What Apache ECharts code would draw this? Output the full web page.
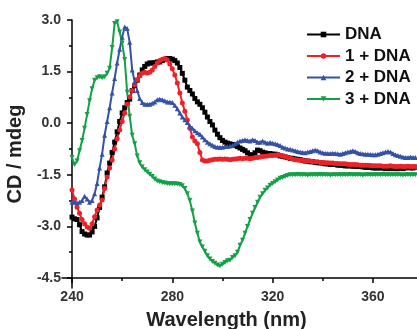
<!DOCTYPE html>
<html>
<head>
<meta charset="utf-8">
<script src="https://cdn.jsdelivr.net/npm/echarts@6/dist/echarts.min.js"></script>
<style>
  html, body { margin: 0; padding: 0; background: #fff; }
  #chart { width: 417px; height: 329px; }
</style>
</head>
<body>
<div id="chart"></div>
<script>
// wavelength starts at 240 nm, 1 nm per point
const startNm = 240;

const dna = [
  -2.73, -2.78, -2.80, -2.95, -3.15, -3.22, -3.25, -3.25, -3.16, -3.00,
  -2.75, -2.45, -2.15, -1.85, -1.45, -1.16, -0.85, -0.55, -0.25, 0.05,
  0.30, 0.45, 0.60, 0.70, 0.95, 1.10, 1.25, 1.40, 1.55, 1.65,
  1.72, 1.75, 1.75, 1.76, 1.78, 1.78, 1.82, 1.85, 1.88, 1.88,
  1.86, 1.82, 1.75, 1.62, 1.45, 1.25, 1.05, 0.95, 0.85, 0.72,
  0.62, 0.55, 0.45, 0.32, 0.18, 0.05, -0.05, -0.20, -0.32, -0.42,
  -0.50, -0.55, -0.58, -0.60, -0.62, -0.65, -0.68, -0.72, -0.76, -0.80,
  -0.86, -0.92, -0.92, -0.86, -0.78, -0.80, -0.84, -0.86, -0.88, -0.88,
  -0.90, -0.90, -0.92, -0.95, -0.96, -0.98, -1.00, -1.02, -1.02, -1.04,
  -1.05, -1.06, -1.08, -1.10, -1.10, -1.12, -1.12, -1.14, -1.15, -1.15,
  -1.16, -1.18, -1.18, -1.20, -1.20, -1.20, -1.22, -1.22, -1.22, -1.24,
  -1.24, -1.24, -1.25, -1.25, -1.26, -1.26, -1.27, -1.28, -1.28, -1.28,
  -1.30, -1.30, -1.30, -1.30, -1.30, -1.32, -1.30, -1.32, -1.30, -1.32,
  -1.32, -1.30, -1.32, -1.30, -1.28, -1.30, -1.30, -1.28
];

const dna1 = [
  -1.94, -2.20, -2.44, -2.62, -2.80, -2.92, -3.02, -3.05, -2.92, -2.72,
  -2.52, -2.38, -2.23, -1.90, -1.56, -1.30, -1.07, -0.75, -0.45, -0.20,
  0.05, 0.30, 0.55, 0.76, 0.95, 1.12, 1.26, 1.38, 1.45, 1.48,
  1.46, 1.48, 1.55, 1.65, 1.75, 1.82, 1.86, 1.88, 1.84, 1.72,
  1.58, 1.40, 1.17, 0.88, 0.59, 0.35, 0.09, -0.15, -0.40, -0.52,
  -0.60, -0.85, -1.07, -1.10, -1.10, -1.08, -1.06, -1.05, -1.05, -1.04,
  -1.05, -1.04, -1.05, -1.06, -1.05, -1.04, -1.03, -1.02, -1.03, -1.02,
  -1.02, -1.03, -1.02, -1.00, -1.00, -0.98, -0.97, -0.96, -0.95, -0.94,
  -0.94, -0.93, -0.92, -0.93, -0.95, -0.97, -1.00, -1.02, -1.04, -1.06,
  -1.07, -1.08, -1.08, -1.10, -1.10, -1.10, -1.12, -1.12, -1.12, -1.14,
  -1.14, -1.15, -1.15, -1.16, -1.16, -1.17, -1.17, -1.18, -1.18, -1.18,
  -1.19, -1.20, -1.20, -1.20, -1.21, -1.22, -1.22, -1.22, -1.22, -1.23,
  -1.24, -1.24, -1.24, -1.24, -1.25, -1.25, -1.25, -1.24, -1.25, -1.26,
  -1.26, -1.25, -1.26, -1.26, -1.25, -1.26, -1.26, -1.26
];

const dna2 = [
  -2.29, -2.30, -2.32, -2.30, -2.25, -2.12, -2.20, -2.30, -2.25, -2.05,
  -1.75, -1.30, -0.90, -0.35, 0.05, 0.45, 0.88, 1.30, 1.75, 2.15,
  2.50, 2.80, 2.75, 2.35, 1.55, 1.20, 0.95, 0.72, 0.60, 0.55,
  0.55, 0.55, 0.58, 0.62, 0.68, 0.70, 0.68, 0.65, 0.62, 0.62,
  0.60, 0.52, 0.42, 0.30, 0.18, 0.10, 0.02, -0.08, -0.15, -0.22,
  -0.28, -0.32, -0.40, -0.48, -0.55, -0.60, -0.64, -0.68, -0.70, -0.70,
  -0.70, -0.68, -0.68, -0.66, -0.64, -0.60, -0.55, -0.52, -0.50, -0.48,
  -0.50, -0.52, -0.48, -0.50, -0.55, -0.55, -0.52, -0.55, -0.58, -0.56,
  -0.58, -0.60, -0.62, -0.65, -0.70, -0.72, -0.75, -0.76, -0.78, -0.80,
  -0.82, -0.84, -0.85, -0.86, -0.84, -0.82, -0.80, -0.78, -0.80, -0.84,
  -0.86, -0.87, -0.88, -0.88, -0.87, -0.88, -0.89, -0.90, -0.88, -0.86,
  -0.84, -0.82, -0.80, -0.82, -0.86, -0.88, -0.89, -0.90, -0.90, -0.91,
  -0.92, -0.92, -0.90, -0.88, -0.86, -0.84, -0.82, -0.84, -0.88, -0.92,
  -0.94, -0.96, -0.98, -1.00, -1.00, -0.98, -1.00, -1.00
];

const dna3 = [
  -1.00, -1.20, -1.10, -0.80, -0.50, -0.15, 0.25, 0.65, 1.00, 1.25,
  1.32, 1.35, 1.32, 1.35, 1.45, 1.60, 2.20, 2.90, 2.95, 2.65,
  2.33, 1.85, 0.90, 0.20, -0.35, -0.60, -0.95, -1.15, -1.27, -1.35,
  -1.42, -1.48, -1.55, -1.62, -1.68, -1.70, -1.72, -1.74, -1.75, -1.76,
  -1.76, -1.76, -1.77, -1.78, -1.82, -1.90, -2.05, -2.25, -2.55, -2.90,
  -3.20, -3.45, -3.60, -3.72, -3.85, -3.95, -4.02, -4.07, -4.12, -4.15,
  -4.10, -4.05, -4.00, -3.98, -3.90, -3.85, -3.75, -3.55, -3.40, -3.20,
  -3.00, -2.80, -2.62, -2.45, -2.30, -2.15, -2.05, -1.95, -1.88, -1.80,
  -1.75, -1.70, -1.65, -1.60, -1.58, -1.55, -1.52, -1.50, -1.50, -1.50,
  -1.49, -1.50, -1.50, -1.50, -1.51, -1.50, -1.50, -1.50, -1.50, -1.49,
  -1.50, -1.50, -1.50, -1.51, -1.50, -1.50, -1.50, -1.50, -1.50, -1.50,
  -1.50, -1.49, -1.50, -1.50, -1.50, -1.50, -1.51, -1.50, -1.50, -1.50,
  -1.50, -1.50, -1.50, -1.50, -1.49, -1.50, -1.50, -1.50, -1.50, -1.50,
  -1.50, -1.50, -1.51, -1.50, -1.50, -1.50, -1.50, -1.50
];

const seriesDefs = [
  { name: "DNA", data: dna, color: "#000000", symbol: "rect" },
  { name: "1 + DNA", data: dna1, color: "#ec2229", symbol: "circle" },
  { name: "2 + DNA", data: dna2, color: "#3552a6", symbol: "triangle" },
  { name: "3 + DNA", data: dna3, color: "#13a046", symbol: "path://M0,0L10,0L5,10Z" }
];

const xMajor = [240, 280, 320, 360];
const xMinor = [260, 300, 340];
const yMajor = [-4.5, -3.0, -1.5, 0.0, 1.5, 3.0];
const yMinor = [-3.75, -2.25, -0.75, 0.75, 2.25];

// extents reach 10 px past 240 nm / -4.5 so the frame lines sit inside the grid
const xMin = 236;
const xMax = 377.6;
const yMin = -4.79;
const yMax = 3.0;
const pad = 10;

const gridLeft = 62, gridRight = 0, gridTop = 20, gridBottom = 41;
const gridW = 417 - gridLeft - gridRight;
const gridH = 329 - gridTop - gridBottom;

const font = "'Liberation Sans', Arial, sans-serif";
const axisColor = "#000";
const tickStyle = { color: axisColor, width: 1.5 };
const chart = echarts.init(document.getElementById("chart"), null, { renderer: "canvas" });

// axis line + ticks drawn by top/right axes moved onto the left/bottom edge
// (left/bottom axes here only carry the labels and the names)
const frameX = (ticks, len, line) => ({
  type: "value", min: xMin, max: xMax, position: "top", offset: -(gridH - pad),
  axisLine: { show: line, onZero: false, lineStyle: { color: axisColor, width: 1.5 } },
  axisTick: { show: true, inside: true, customValues: ticks, length: len, lineStyle: tickStyle },
  axisLabel: { show: false },
  splitLine: { show: false }
});
const frameY = (ticks, len, line) => ({
  type: "value", min: yMin, max: yMax, position: "right", offset: -(gridW - pad),
  axisLine: { show: line, onZero: false, lineStyle: { color: axisColor, width: 1.5 } },
  axisTick: { show: true, inside: true, customValues: ticks, length: len, lineStyle: tickStyle },
  axisLabel: { show: false },
  splitLine: { show: false }
});

chart.setOption({
  animation: false,
  grid: { left: gridLeft, right: gridRight, top: gridTop, bottom: gridBottom, outerBoundsMode: "none" },
  legend: {
    orient: "vertical",
    left: 301,
    top: 21,
    itemWidth: 33,
    itemHeight: 7,
    itemGap: 4.5,
    textStyle: { fontFamily: font, fontWeight: "bold", fontSize: 17, color: "#111" },
    data: seriesDefs.map((s) => s.name)
  },
  xAxis: [
    {
      type: "value",
      min: xMin,
      max: xMax,
      position: "bottom",
      offset: -pad,
      name: "Wavelength (nm)",
      nameLocation: "middle",
      nameGap: 32,
      nameTextStyle: { fontFamily: font, fontWeight: "bold", fontSize: 20, color: "#222", padding: [0, 26, 0, 0] },
      axisLine: { show: false, onZero: false },
      axisTick: { show: false },
      axisLabel: { show: true, customValues: xMajor, fontFamily: font, fontWeight: "bold", fontSize: 14, color: "#333", margin: 12 },
      splitLine: { show: false }
    },
    frameX(xMajor, 5, true),
    frameX(xMinor, 3, false)
  ],
  yAxis: [
    {
      type: "value",
      min: yMin,
      max: yMax,
      position: "left",
      offset: -pad,
      name: "CD / mdeg",
      nameLocation: "middle",
      nameGap: 41,
      nameTextStyle: { fontFamily: font, fontWeight: "bold", fontSize: 20, color: "#222" },
      axisLine: { show: false, onZero: false },
      axisTick: { show: false },
      axisLabel: {
        show: true, customValues: yMajor, fontFamily: font, fontWeight: "bold", fontSize: 14, color: "#333", margin: 11,
        formatter: (v) => v.toFixed(1)
      },
      splitLine: { show: false }
    },
    frameY(yMajor, 5, true),
    frameY(yMinor, 3, false)
  ],
  series: seriesDefs.map((s) => ({
    name: s.name,
    type: "line",
    xAxisIndex: 0,
    yAxisIndex: 0,
    data: s.data.map((v, i) => [startNm + i, v]),
    symbol: s.symbol,
    symbolSize: 5,
    showAllSymbol: true,
    lineStyle: { color: s.color, width: 2 },
    itemStyle: { color: s.color, borderWidth: 0 },
    emphasis: { disabled: true }
  }))
});
</script>
</body>
</html>
